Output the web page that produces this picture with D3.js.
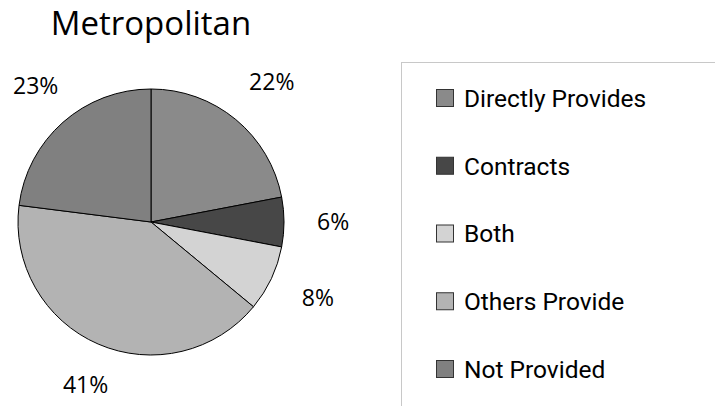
<!DOCTYPE html>
<html>
<head>
<meta charset="utf-8">
<script src="https://cdn.jsdelivr.net/npm/d3@7"></script>
<style>
  body { margin: 0; background: #fff; }
</style>
</head>
<body>
<script>
const categories = ['Directly Provides', 'Contracts', 'Both', 'Others Provide', 'Not Provided']
const values = [22, 6, 8, 41, 23]
const fills = ['#8a8a8a', '#474747', '#d3d3d3', '#b3b3b3', '#808080']

const W = 715, H = 406

const svg = d3.create('svg')
  .attr('width', W)
  .attr('height', H)
  .style('background', '#fff')

// attach early so getBBox works for the labels
document.body.appendChild(svg.node())

svg.append('text')
  .attr('x', 151)
  .attr('y', 35)
  .attr('text-anchor', 'middle')
  .attr('font-family', '"Open Sans", sans-serif')
  .attr('font-size', 33)
  .attr('fill', '#000')
  .text('Metropolitan')

const cx = 151, cy = 222, r = 133

const pie = d3.pie().sort(null).value(d => d)
const arcs = pie(values)
const arc = d3.arc().innerRadius(0).outerRadius(r)

const g = svg.append('g').attr('transform', `translate(${cx},${cy})`)

g.selectAll('path')
  .data(arcs)
  .join('path')
  .attr('d', arc)
  .attr('fill', (d, i) => fills[i])
  .attr('stroke', '#000')
  .attr('stroke-width', 1)

// labels sit outside the rim, pushed out by half their box
const labels = g.selectAll('text')
  .data(arcs)
  .join('text')
  .attr('text-anchor', 'middle')
  .attr('dy', '0.36em')
  .attr('font-family', '"Open Sans", sans-serif')
  .attr('font-size', 23)
  .attr('fill', '#000')
  .text(d => d.data + '%')

labels.attr('transform', function (d) {
  const a = (d.startAngle + d.endAngle) / 2
  const bb = this.getBBox()
  const s = Math.sin(a), c = Math.cos(a)
  const R = r + 28 + Math.abs(s) * bb.width / 2 + Math.abs(c) * 8
  return `translate(${5 + R * s},${-R * c})`
})

// legend
svg.append('rect')
  .attr('x', 401.5)
  .attr('y', 62.5)
  .attr('width', 330)
  .attr('height', 360)
  .attr('fill', 'none')
  .attr('stroke', '#c8c8c8')
  .attr('stroke-width', 1)

const ly = d3.scalePoint().domain(categories).range([98, 369])

const item = svg.selectAll('g.leg')
  .data(categories)
  .join('g')
  .attr('class', 'leg')
  .attr('transform', d => `translate(436,${ly(d)})`)

item.append('rect')
  .attr('x', 0.5)
  .attr('y', -8.5)
  .attr('width', 17)
  .attr('height', 17)
  .attr('fill', (d, i) => fills[i])
  .attr('stroke', '#333')
  .attr('stroke-width', 1)

item.append('text')
  .attr('x', 28)
  .attr('dy', '0.36em')
  .attr('font-family', 'Roboto, sans-serif')
  .attr('font-size', 24.5)
  .attr('fill', '#000')
  .text(d => d)
</script>
</body>
</html>
